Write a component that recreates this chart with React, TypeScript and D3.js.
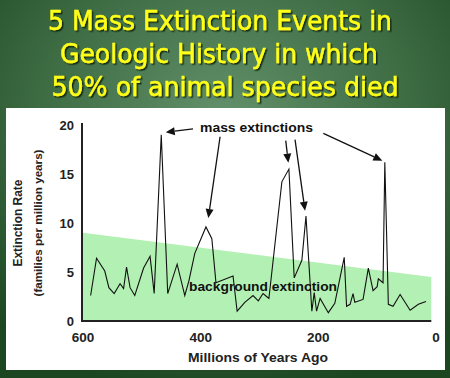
import React from "react";
import * as d3 from "d3";

// ---- data ----
const titleLines = ["5 Mass Extinction Events in", "Geologic History in which", "50% of animal species died"];
const yTicks = [0, 5, 10, 15, 20];
const xTicks = [600, 400, 200, 0];
const ages = [587, 577, 563, 556, 547, 537, 531, 526, 520, 512, 497, 486, 479, 467, 456, 440, 427, 420, 410, 391, 381, 374, 345, 338, 325, 311, 302, 294, 288, 284, 262, 250, 241, 228, 221, 211, 207, 203, 197, 183, 172, 156, 152, 146, 141, 138, 124, 115, 107, 100, 98, 90, 87, 81, 73, 61, 44, 30, 17];
const rates = [2.6, 6.4, 5.1, 3.4, 2.8, 3.8, 3.3, 5.5, 3.4, 2.6, 5.4, 6.6, 2.8, 19.0, 2.8, 5.8, 2.6, 4.1, 6.9, 9.6, 8.4, 3.9, 4.6, 1.0, 1.9, 2.6, 2.05, 2.8, 2.5, 2.3, 14.2, 15.5, 4.4, 6.2, 10.7, 1.0, 2.9, 1.0, 2.3, 0.85, 1.8, 6.5, 1.5, 1.7, 2.8, 1.9, 2.2, 5.4, 3.1, 3.5, 4.3, 3.9, 16.2, 1.7, 1.5, 2.7, 1.1, 1.7, 2.0];
const bandAges = [600, 8];
const bandTop = [9.0, 4.5];
// arrows: [fromAge, fromRate, toAge, toRate]
const arrowFromAge = [413, 367, 255.4, 239.6, 191.5];
const arrowFromRate = [19.6, 18.8, 18.4, 18.5, 19.15];
const arrowToAge = [459.4, 387, 251, 222.6, 91.2];
const arrowToRate = [19.25, 10.5, 16.15, 11.25, 16.36];

export default function App() {
  const W = 450, H = 378;
  const x = d3.scaleLinear().domain([600, 0]).range([83, 436]);
  const y = d3.scaleLinear().domain([0, 20]).range([321, 125]);
  const axisLeft = 82;

  const pts: [number, number][] = ages.map((a, i) => [a, rates[i]]);
  const line = d3.line<[number, number]>().x(d => x(d[0])).y(d => y(d[1]));

  const band = d3.area<number>()
    .x((_, i) => x(bandAges[i]))
    .y0(() => y(0))
    .y1((_, i) => y(bandTop[i]));

  const arrows = arrowFromAge.map((a, i) => {
    const x1 = x(a), y1 = y(arrowFromRate[i]);
    const x2 = x(arrowToAge[i]), y2 = y(arrowToRate[i]);
    const ang = Math.atan2(y2 - y1, x2 - x1);
    const L = 9, Wd = 4;
    const bx = x2 - L * Math.cos(ang), by = y2 - L * Math.sin(ang);
    const p1 = [bx + Wd * Math.sin(ang), by - Wd * Math.cos(ang)];
    const p2 = [bx - Wd * Math.sin(ang), by + Wd * Math.cos(ang)];
    return { x1, y1, bx, by, head: `M${x2},${y2}L${p1[0]},${p1[1]}L${p2[0]},${p2[1]}Z` };
  });

  const titleY = [30, 63, 96];
  const titleX = [220, 219, 225];
  const titleLen = [344, 318, 347];
  const font = "'Liberation Sans', Arial, sans-serif";

  return (
    <svg width={W} height={H} style={{ position: "absolute", left: 0, top: 0 }}>
      <defs>
        <radialGradient id="bg" cx="0.5" cy="0.3" r="0.75">
          <stop offset="0" stopColor="#62906a" />
          <stop offset="0.55" stopColor="#3d6b42" />
          <stop offset="1" stopColor="#1b4620" />
        </radialGradient>
        <filter id="sh" x="-5%" y="-20%" width="110%" height="140%">
          <feDropShadow dx="1.5" dy="1.5" stdDeviation="0.6" floodColor="#0a200c" floodOpacity="0.9" />
        </filter>
      </defs>
      <rect x={0} y={0} width={W} height={H} fill="url(#bg)" />
      {titleLines.map((t, i) => (
        <text key={i} x={titleX[i]} y={titleY[i]} textAnchor="middle" fontFamily="Tahoma, 'DejaVu Sans', sans-serif"
          fontSize={26} fill="#ffff1a" stroke="#ffff1a" strokeWidth={0.5} filter="url(#sh)" textLength={titleLen[i]} lengthAdjust="spacingAndGlyphs">{t}</text>
      ))}
      <rect x={6} y={108} width={439} height={262} fill="#ffffff" />
      <path d={band(bandAges) || ""} fill="#b3f0b3" />
      <path d={line(pts) || ""} fill="none" stroke="#111" strokeWidth={1.1} strokeLinejoin="miter" />
      {/* axes */}
      <line x1={axisLeft} x2={axisLeft} y1={y(20) - 2} y2={y(0) + 1} stroke="#222" strokeWidth={2} />
      <line x1={axisLeft - 1} x2={x(bandAges[1])} y1={y(0)} y2={y(0)} stroke="#222" strokeWidth={2} />
      {yTicks.map(t => (
        <text key={t} x={74} y={y(t)} dy="0.36em" textAnchor="end" fontFamily={font} fontWeight="bold" fontSize={13} fill="#222">{t}</text>
      ))}
      {xTicks.map(t => (
        <text key={t} x={x(t)} y={342} textAnchor="middle" fontFamily={font} fontWeight="bold" fontSize={13.5} fill="#222">{t}</text>
      ))}
      <text x={258} y={362} textAnchor="middle" fontFamily={font} fontWeight="bold" fontSize={13.5} fill="#222" textLength={140} lengthAdjust="spacingAndGlyphs">Millions of Years Ago</text>
      <g transform="translate(22,223) rotate(-90)">
        <text x={0} y={0} textAnchor="middle" fontFamily={font} fontWeight="bold" fontSize={12} fill="#222" textLength={87} lengthAdjust="spacingAndGlyphs">Extinction Rate</text>
        <text x={0} y={20} textAnchor="middle" fontFamily={font} fontWeight="bold" fontSize={11.5} fill="#222" textLength={147} lengthAdjust="spacingAndGlyphs">(families per million years)</text>
      </g>
      <text x={189} y={291} fontFamily={font} fontWeight="bold" fontSize={12} fill="#111" textLength={148} lengthAdjust="spacingAndGlyphs">background extinction</text>
      <text x={200} y={132} fontFamily={font} fontWeight="bold" fontSize={12.5} fill="#111" textLength={113} lengthAdjust="spacingAndGlyphs">mass extinctions</text>
      {arrows.map((a, i) => (
        <g key={i}>
          <line x1={a.x1} y1={a.y1} x2={a.bx} y2={a.by} stroke="#111" strokeWidth={1.3} />
          <path d={a.head} fill="#111" />
        </g>
      ))}
    </svg>
  );
}
